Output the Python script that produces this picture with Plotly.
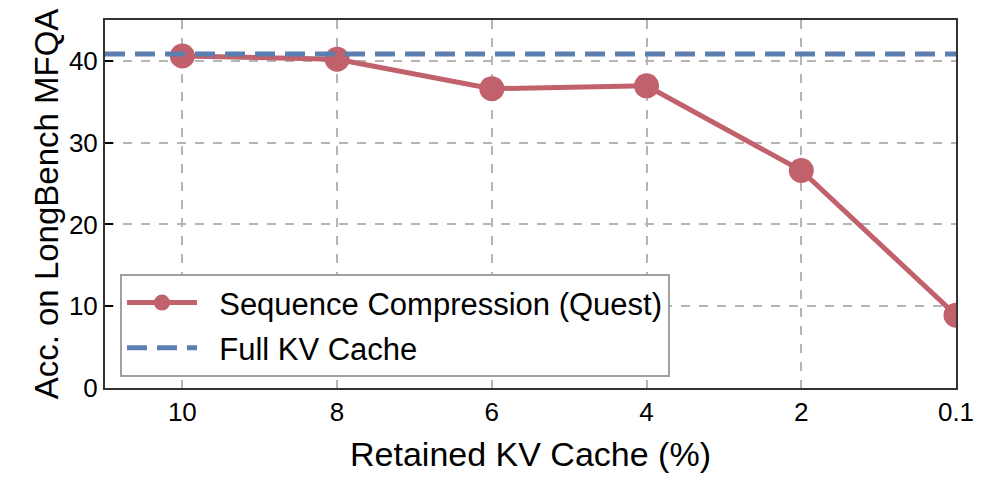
import plotly.graph_objects as go

categories = ["10", "8", "6", "4", "2", "0.1"]
quest_acc = [40.6, 40.2, 36.6, 36.95, 26.6, 8.9]
full_kv = 40.85

x_idx = list(range(len(categories)))
pad = "\u00a0\u00a0"

fig = go.Figure()
fig.add_trace(go.Scatter(
    x=x_idx, y=quest_acc, mode="lines+markers",
    name=pad + "Sequence Compression (Quest)", legendgroup="a",
    line=dict(color="#c0616b", width=5),
    marker=dict(color="#c0616b", size=25),
    cliponaxis=True,
))
fig.add_trace(go.Scatter(
    x=[-0.5, 5], y=[full_kv, full_kv],
    mode="lines", name=pad + "Full KV Cache", legendgroup="b",
    line=dict(color="#5b7fb0", width=5, dash="20px,10px"),
    cliponaxis=True,
))

font = "Liberation Sans, Arial, Helvetica, sans-serif"
fig.update_layout(
    width=996, height=488,
    margin=dict(l=105, r=40, t=20, b=100),
    plot_bgcolor="white", paper_bgcolor="white",
    font=dict(family=font, color="black", size=26),
    showlegend=True,
    legend=dict(
        x=0.0176, y=0.31, xanchor="left", yanchor="top",
        bgcolor="white", bordercolor="#a0a0a0", borderwidth=2,
        font=dict(size=31), tracegroupgap=2, itemwidth=70,
    ),
)
fig.update_xaxes(
    range=[-0.5, 5], tickmode="array", tickvals=x_idx, ticktext=categories,
    showgrid=True, gridcolor="#b5b5b5", griddash="dash", gridwidth=1.5,
    showline=True, linecolor="#333333", linewidth=2, mirror=True,
    ticks="", tickfont=dict(size=26),
    title=dict(text="Retained KV Cache (%)", font=dict(size=34), standoff=16),
    zeroline=False,
)
fig.update_yaxes(
    range=[0, 45], tickvals=[0, 10, 20, 30, 40],
    showgrid=True, gridcolor="#b5b5b5", griddash="dash", gridwidth=1.5,
    showline=True, linecolor="#333333", linewidth=2, mirror=True,
    ticks="inside", ticklen=8, tickcolor="black", tickwidth=1.5,
    tickfont=dict(size=26),
    title=dict(text="Acc. on LongBench MFQA", font=dict(size=33), standoff=0),
    zeroline=False,
)

fig.write_html("out.html")
